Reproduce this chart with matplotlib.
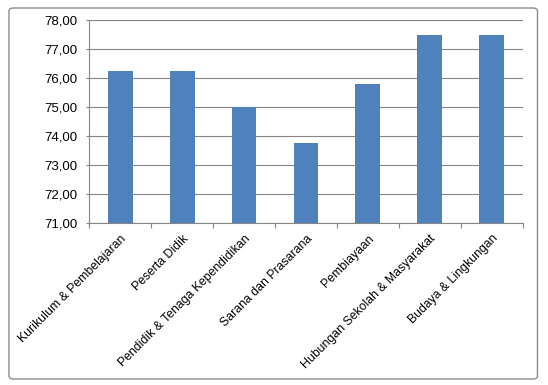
import matplotlib
matplotlib.use("Agg")
import matplotlib.pyplot as plt
import matplotlib.transforms as mtransforms
from matplotlib.patches import FancyBboxPatch
from matplotlib.ticker import FuncFormatter, MultipleLocator

categories = [
    "Kurikulum & Pembelajaran",
    "Peserta Didik",
    "Pendidik & Tenaga Kependidikan",
    "Sarana dan Prasarana",
    "Pembiayaan",
    "Hubungan Sekolah & Masyarakat",
    "Budaya & Lingkungan",
]
values = [76.25, 76.25, 75.00, 73.75, 75.80, 77.50, 77.50]

plt.rcParams["font.family"] = ["Liberation Sans", "DejaVu Sans"]

fig = plt.figure(figsize=(5.48, 3.85), dpi=100)
ax = fig.add_axes([0.163, 0.4208, 0.7905, 0.5265])

# Rounded outer frame like a spreadsheet chart area
frame = FancyBboxPatch((0.0164, 0.0156), 0.9644, 0.9636,
                       boxstyle="round,pad=0,rounding_size=0.008",
                       transform=fig.transFigure, facecolor="none",
                       edgecolor="#8c8c8c", linewidth=1.0)
fig.patches.append(frame)

x = range(len(categories))
ax.bar(x, values, width=0.40, color="#4f81bd", zorder=3, bottom=0)

ax.set_ylim(71, 78)
ax.set_xlim(-0.5, len(categories) - 0.5)
ax.yaxis.set_major_locator(MultipleLocator(1))
ax.yaxis.set_major_formatter(FuncFormatter(lambda v, p: f"{v:.2f}".replace(".", ",")))
ax.grid(axis="y", color="#868686", linewidth=0.8, zorder=0)

ax.set_xticks([i - 0.5 for i in range(len(categories) + 1)], minor=False)
ax.set_xticklabels([])
ax.set_xticks(list(x), minor=True)
labels = ax.set_xticklabels(categories, minor=True, rotation=45, ha="right",
                            va="top", rotation_mode="anchor", fontsize=8.8)
shift = mtransforms.ScaledTranslation(2 / 72, 0, fig.dpi_scale_trans)
for lab in labels:
    lab.set_transform(lab.get_transform() + shift)
ax.tick_params(axis="x", which="minor", length=0, pad=7)
ax.tick_params(axis="x", which="major", length=3.5, color="#868686", direction="out")
ax.tick_params(axis="y", length=2.5, color="#868686", labelsize=9.5, pad=6)

for side in ["top", "right"]:
    ax.spines[side].set_visible(False)
for side in ["left", "bottom"]:
    ax.spines[side].set_color("#868686")
    ax.spines[side].set_linewidth(0.8)

fig.savefig("out.png", dpi=100)
